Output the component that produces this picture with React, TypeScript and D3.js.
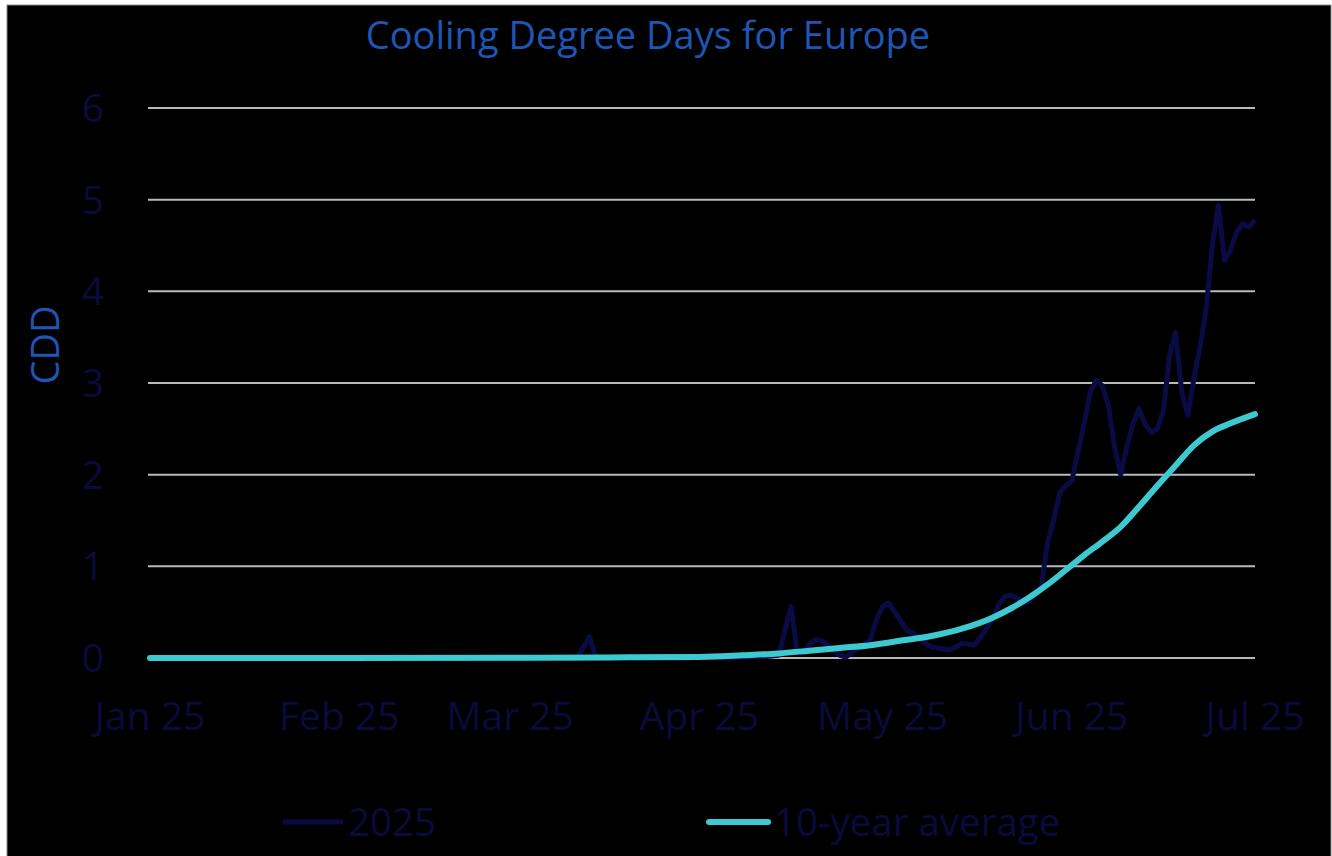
import React from "react";
import * as d3 from "d3";

const TITLE = "Cooling Degree Days for Europe";
const Y_LABEL = "CDD";
const Y_TICKS = [0, 1, 2, 3, 4, 5, 6];
const X_TICK_DATES = ["2025-01-01", "2025-02-01", "2025-03-01", "2025-04-01", "2025-05-01", "2025-06-01", "2025-07-01"];
const X_TICK_LABELS = ["Jan 25", "Feb 25", "Mar 25", "Apr 25", "May 25", "Jun 25", "Jul 25"];
const SERIES_NAMES = ["2025", "10-year average"];

// 2025 daily CDD (dates and values)
const DATES_2025 = [
  "2025-01-01", "2025-03-01", "2025-03-12", "2025-03-13", "2025-03-14", "2025-03-15", "2025-03-16",
  "2025-03-26", "2025-03-27", "2025-04-11", "2025-04-14", "2025-04-15", "2025-04-16", "2025-04-17",
  "2025-04-18", "2025-04-19", "2025-04-20", "2025-04-21", "2025-04-22", "2025-04-23", "2025-04-24",
  "2025-04-25", "2025-04-26", "2025-04-27", "2025-04-28", "2025-04-29", "2025-04-30", "2025-05-01",
  "2025-05-02", "2025-05-03", "2025-05-04", "2025-05-05", "2025-05-06", "2025-05-07", "2025-05-08",
  "2025-05-09", "2025-05-10", "2025-05-11", "2025-05-12", "2025-05-13", "2025-05-14", "2025-05-15",
  "2025-05-16", "2025-05-17", "2025-05-18", "2025-05-19", "2025-05-20", "2025-05-21", "2025-05-22",
  "2025-05-23", "2025-05-24", "2025-05-25", "2025-05-26", "2025-05-27", "2025-05-28", "2025-05-29",
  "2025-05-30", "2025-05-31", "2025-06-01", "2025-06-02", "2025-06-03", "2025-06-04", "2025-06-05",
  "2025-06-06", "2025-06-07", "2025-06-08", "2025-06-09", "2025-06-10", "2025-06-11", "2025-06-12",
  "2025-06-13", "2025-06-14", "2025-06-15", "2025-06-16", "2025-06-17", "2025-06-18", "2025-06-19",
  "2025-06-20", "2025-06-21", "2025-06-22", "2025-06-23", "2025-06-24", "2025-06-25", "2025-06-26",
  "2025-06-27", "2025-06-28", "2025-06-29", "2025-06-30", "2025-07-01",
];
const VALUES_2025 = [
  0, 0, 0, 0.12, 0.23, 0.02, 0,
  0.01, 0, 0.01, 0.03, 0.3, 0.56, 0.08,
  0.06, 0.15, 0.2, 0.19, 0.14, 0.08, 0.03,
  0.01, 0.06, 0.1, 0.15, 0.2, 0.42, 0.56,
  0.6, 0.5, 0.4, 0.3, 0.27, 0.22, 0.16,
  0.12, 0.11, 0.1, 0.09, 0.12, 0.16, 0.15,
  0.14, 0.22, 0.32, 0.42, 0.58, 0.67, 0.69,
  0.65, 0.6, 0.62, 0.7, 0.78, 1.25, 1.5,
  1.8, 1.88, 1.93, 2.25, 2.55, 2.9, 3.03,
  2.97, 2.75, 2.3, 2.0, 2.3, 2.55, 2.72,
  2.55, 2.46, 2.5, 2.7, 3.3, 3.55, 2.9,
  2.65, 3.05, 3.4, 3.8, 4.5, 4.94, 4.34,
  4.45, 4.65, 4.74, 4.7, 4.78,
];

// 10-year average
const DATES_AVG = [
  "2025-01-01", "2025-02-01", "2025-03-01", "2025-03-17", "2025-04-01", "2025-04-08", "2025-04-14",
  "2025-04-19", "2025-04-24", "2025-04-29", "2025-05-04", "2025-05-09", "2025-05-14", "2025-05-19",
  "2025-05-22", "2025-05-25", "2025-05-28", "2025-05-31", "2025-06-03", "2025-06-06", "2025-06-09",
  "2025-06-12", "2025-06-15", "2025-06-18", "2025-06-21", "2025-06-24", "2025-06-27", "2025-07-01",
];
const VALUES_AVG = [
  0, 0, 0.003, 0.006, 0.012, 0.03, 0.05,
  0.08, 0.11, 0.14, 0.19, 0.24, 0.32, 0.44,
  0.54, 0.66, 0.8, 0.96, 1.12, 1.27, 1.43,
  1.65, 1.88, 2.1, 2.32, 2.47, 2.56, 2.66,
];

const parse = d3.utcParse("%Y-%m-%d");

export default function App() {
  const W = 1332;
  const H = 856;
  const x = d3
    .scaleUtc()
    .domain([parse("2025-01-01")!, parse("2025-07-01")!])
    .range([150, 1255]);
  const y = d3.scaleLinear().domain([0, 6]).range([658, 108]);

  const s2025 = DATES_2025.map((d, i) => ({ d: parse(d)!, v: VALUES_2025[i] }));
  const sAvg = DATES_AVG.map((d, i) => ({ d: parse(d)!, v: VALUES_AVG[i] }));

  const line = d3
    .line<{ d: Date; v: number }>()
    .x((p) => x(p.d))
    .y((p) => y(p.v));
  const smooth = d3
    .line<{ d: Date; v: number }>()
    .x((p) => x(p.d))
    .y((p) => y(p.v))
    .curve(d3.curveMonotoneX);

  const navy = "#0a0b45";
  const cyan = "#3cc9d0";
  const labelColor = "#0a0a3c";
  const blue = "#1f55b5";
  const font = "'Open Sans', 'Noto Sans', sans-serif";

  return (
    <svg
      width={W}
      height={H}
      style={{ position: "absolute", left: 0, top: 0 }}
      fontFamily={font}
    >
      <rect x={0} y={0} width={W} height={H} fill="#ffffff" />
      <rect x={7} y={5} width={W - 8} height={H - 4} fill="#000000" stroke="#8a8a8a" strokeWidth={1} />

      <text x={648} y={49} textAnchor="middle" fontSize={38} fill={blue}>
        {TITLE}
      </text>

      {Y_TICKS.map((t) => (
        <g key={t}>
          <line x1={148} x2={1255} y1={y(t)} y2={y(t)} stroke="#b7babd" strokeWidth={2} />
          <text x={104} y={y(t) + 14} textAnchor="end" fontSize={39} fill={labelColor}>
            {t}
          </text>
        </g>
      ))}

      <text
        transform={`translate(59, 345) rotate(-90)`}
        textAnchor="middle"
        fontSize={38}
        fill={blue}
      >
        {Y_LABEL}
      </text>

      {X_TICK_DATES.map((d, i) => (
        <text key={d} x={x(parse(d)!)} y={730} textAnchor="middle" fontSize={39} fill={labelColor}>
          {X_TICK_LABELS[i]}
        </text>
      ))}

      <path d={line(s2025) || ""} fill="none" stroke={navy} strokeWidth={5} strokeLinejoin="round" />
      <path d={smooth(sAvg) || ""} fill="none" stroke={cyan} strokeWidth={6} strokeLinecap="round" />

      <line x1={283} x2={343} y1={822} y2={822} stroke={navy} strokeWidth={5} />
      <text x={348} y={836} fontSize={38.5} fill={labelColor}>
        {SERIES_NAMES[0]}
      </text>
      <line x1={709} x2={768} y1={822} y2={822} stroke={cyan} strokeWidth={6} strokeLinecap="round" />
      <text x={774} y={836} fontSize={38.5} fill={labelColor}>
        {SERIES_NAMES[1]}
      </text>
    </svg>
  );
}
